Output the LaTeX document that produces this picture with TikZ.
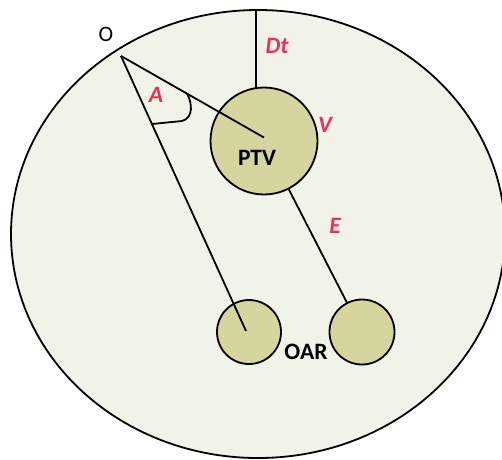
\documentclass[tikz,border=0pt]{standalone}
\usepackage{fontspec}
\setmainfont{Carlito}
\begin{document}
\begin{tikzpicture}[x=1pt,y=-1pt,
  ln/.style={line width=1.8pt,black},
  organ/.style={circle,draw=black,line width=1.8pt,fill=organfill,inner sep=0pt},
  redlab/.style={text=labred,font=\fontsize{23.5}{25}\selectfont\bfseries\itshape},
  blklab/.style={text=black,font=\fontsize{23.5}{25}\selectfont\bfseries}]
\definecolor{bodyfill}{RGB}{242,243,232}
\definecolor{organfill}{RGB}{214,213,160}
\definecolor{labred}{RGB}{228,52,92}
\useasboundingbox (0,0) rectangle (502,459);
\draw[ln,fill=bodyfill] (258,234) ellipse [x radius=247pt, y radius=224pt];
\node[organ,minimum size=107pt] (ptv) at (264,141) {};
\node[organ,minimum size=64pt] (oar1) at (249,332) {};
\node[organ,minimum size=65pt] (oar2) at (362,332) {};
\coordinate (o) at (121,56);
\coordinate (ptvc) at (264,137.5);
\coordinate (oar1c) at (246,331);
\coordinate (dttop) at (256,10);
\coordinate (dtbot) at (256,88.6);
\draw[ln] (o) -- (ptvc);
\draw[ln] (o) -- (oar1c);
\draw[ln] (dttop) -- (dtbot);
\draw[ln] (ptv) -- (oar2);
\coordinate (a1) at (187,93.5);
\coordinate (a2) at (152,124);
\draw[ln] (a1) .. controls (192,102) and (194,118) .. (182,121) -- (a2);
\node[text=black,font=\fontsize{22}{24}\selectfont] (olab) at (106,34) {O};
\node[blklab] (ptvlab) at (257,158) {PTV};
\node[blklab] (oarlab) at (306,352) {OAR};
\node[redlab] (dtlab) at (277,46) {Dt};
\node[redlab] (alab) at (156,95) {A};
\node[redlab] (vlab) at (325,125) {V};
\node[redlab] (elab) at (335,226) {E};
\end{tikzpicture}
\end{document}
